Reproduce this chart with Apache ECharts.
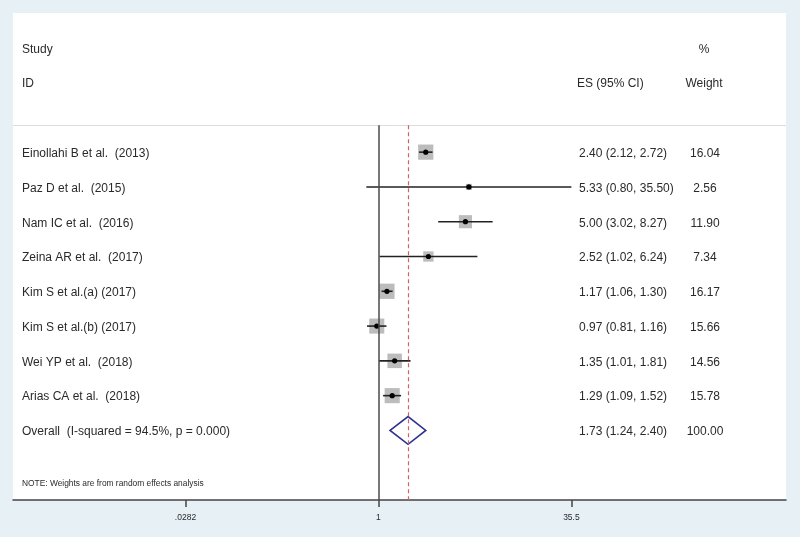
<!DOCTYPE html>
<html><head><meta charset="utf-8">
<script src="https://cdn.jsdelivr.net/npm/echarts@6/dist/echarts.min.js"></script>
<style>html,body{margin:0;padding:0;background:#e7f1f5}#c{width:800px;height:537px}</style>
</head><body><div id="c"></div>
<script>
// ---- data ----
const studies = ['Einollahi B et al.  (2013)', 'Paz D et al.  (2015)', 'Nam IC et al.  (2016)', 'Zeina AR et al.  (2017)',
  'Kim S et al.(a) (2017)', 'Kim S et al.(b) (2017)', 'Wei YP et al.  (2018)', 'Arias CA et al.  (2018)'];
const es = [2.40, 5.33, 5.00, 2.52, 1.17, 0.97, 1.35, 1.29];
const lo = [2.12, 0.80, 3.02, 1.02, 1.06, 0.81, 1.01, 1.09];
const hi = [2.72, 35.50, 8.27, 6.24, 1.30, 1.16, 1.81, 1.52];
const weights = [16.04, 2.56, 11.90, 7.34, 16.17, 15.66, 14.56, 15.78];
const overallLabel = 'Overall  (I-squared = 94.5%, p = 0.000)';
const overallES = 1.73, overallLo = 1.24, overallHi = 2.40, overallWeight = 100.00;
const tickValues = [0.0282, 1, 35.5];
const tickLabels = ['.0282', '1', '35.5'];
const noteText = 'NOTE: Weights are from random effects analysis';
const axisMin = 0.00116, axisMax = 1880;

// ---- layout constants ----
const FONT = 'Liberation Sans, Arial, sans-serif';
const TXT = '#2a2a2a';
const X_NAME = 22, X_ES = 579, X_W = 705;
const HEADER_ROW = -0.77;
const TY = 1.5; // text vertical nudge

function txt(x, y, text, align, size, weight) {
  return { type: 'text', x: x, y: y + TY, style: { text: text, fill: TXT, fontSize: size || 12, fontFamily: FONT,
    fontWeight: weight || 'normal', align: align || 'left', textAlign: align || 'left', verticalAlign: 'middle', textVerticalAlign: 'middle' } };
}
const fmtES = (e, l, h) => e.toFixed(2) + ' (' + l.toFixed(2) + ', ' + h.toFixed(2) + ')';

const lnTicks = tickValues.map(Math.log);
const chart = echarts.init(document.getElementById('c'), null, { renderer: 'canvas' });
chart.setOption({
  animation: false,
  backgroundColor: '#e7f1f5',
  grid: { left: 13, right: 14, top: 13, bottom: 37, show: true, backgroundColor: '#ffffff', borderWidth: 0 },
  xAxis: {
    type: 'value', min: Math.log(axisMin), max: Math.log(axisMax),
    axisLine: { show: true, onZero: false, lineStyle: { color: '#444', width: 1.5 } },
    axisTick: { show: true, customValues: lnTicks, length: 7, inside: false, lineStyle: { color: '#444', width: 1.5 } },
    axisLabel: { show: true, customValues: lnTicks, margin: 13, fontSize: 8.5, color: TXT, fontFamily: FONT,
      formatter: function (v) { for (let i = 0; i < lnTicks.length; i++) { if (Math.abs(lnTicks[i] - v) < 1e-6) return tickLabels[i]; } return ''; } },
    splitLine: { show: false }
  },
  yAxis: { type: 'value', min: -4, max: 10, inverse: true, show: false },
  series: [
    {
      type: 'custom', name: 'studies', clip: false,
      data: studies.map((s, i) => [Math.log(es[i]), i]),
      encode: { x: 0, y: 1 },
      renderItem: function (params, api) {
        const i = params.dataIndex;
        const y = api.coord([0, i])[1];
        const xe = api.coord([Math.log(es[i]), i])[0];
        const xl = api.coord([Math.log(lo[i]), i])[0];
        const xh = api.coord([Math.log(hi[i]), i])[0];
        const s = 3.8 * Math.sqrt(weights[i]);
        return { type: 'group', children: [
          { type: 'rect', shape: { x: xe - s / 2, y: y - s / 2, width: s, height: s }, style: { fill: '#bcbcbc' } },
          { type: 'line', shape: { x1: xl, y1: y, x2: xh, y2: y }, style: { stroke: '#222', lineWidth: 1.6 } },
          { type: 'circle', shape: { cx: xe, cy: y, r: 2.6 }, style: { fill: '#000' } },
          txt(X_NAME, y, studies[i]),
          txt(X_ES, y, fmtES(es[i], lo[i], hi[i])),
          txt(X_W, y, weights[i].toFixed(2), 'center')
        ] };
      },
      markLine: {
        silent: true, symbol: 'none', label: { show: false },
        data: [
          [{ coord: [Math.log(axisMin), HEADER_ROW], lineStyle: { color: '#dddddd', width: 1, type: 'solid' } }, { coord: [Math.log(axisMax), HEADER_ROW] }],
          [{ coord: [0, HEADER_ROW], lineStyle: { color: '#4a4a4a', width: 1.5, type: 'solid' } }, { coord: [0, 10] }],
          [{ coord: [Math.log(overallES), HEADER_ROW], lineStyle: { color: '#cf6464', width: 1.2, type: [4, 3] } }, { coord: [Math.log(overallES), 10] }]
        ]
      }
    },
    {
      type: 'custom', name: 'overall', clip: false,
      data: [[Math.log(overallES), studies.length]],
      encode: { x: 0, y: 1 },
      renderItem: function (params, api) {
        const r = studies.length;
        const c = api.coord([Math.log(overallES), r]);
        const top = api.coord([Math.log(overallES), r - 0.4])[1];
        const bot = api.coord([Math.log(overallES), r + 0.4])[1];
        const xl = api.coord([Math.log(overallLo), r])[0];
        const xh = api.coord([Math.log(overallHi), r])[0];
        return { type: 'group', children: [
          { type: 'polygon', shape: { points: [[xl, c[1]], [c[0], top], [xh, c[1]], [c[0], bot]] },
            style: { fill: 'none', stroke: '#2e3192', lineWidth: 1.6 } },
          txt(X_NAME, c[1], overallLabel),
          txt(X_ES, c[1], fmtES(overallES, overallLo, overallHi)),
          txt(X_W, c[1], overallWeight.toFixed(2), 'center')
        ] };
      }
    },
    {
      type: 'custom', name: 'headers', clip: false, silent: true,
      data: [[0, -3]],
      encode: { x: 0, y: 1 },
      renderItem: function (params, api) {
        const y1 = api.coord([0, -3])[1];
        const y2 = api.coord([0, -2])[1];
        const yn = api.coord([0, 9.5])[1];
        return { type: 'group', children: [
          txt(X_NAME, y1, 'Study'),
          txt(X_NAME, y2, 'ID'),
          txt(704, y1, '%', 'center'),
          txt(577, y2, 'ES (95% CI)'),
          txt(704, y2, 'Weight', 'center'),
          txt(X_NAME, yn, noteText, 'left', 8.4)
        ] };
      }
    }
  ]
});
</script></body></html>
